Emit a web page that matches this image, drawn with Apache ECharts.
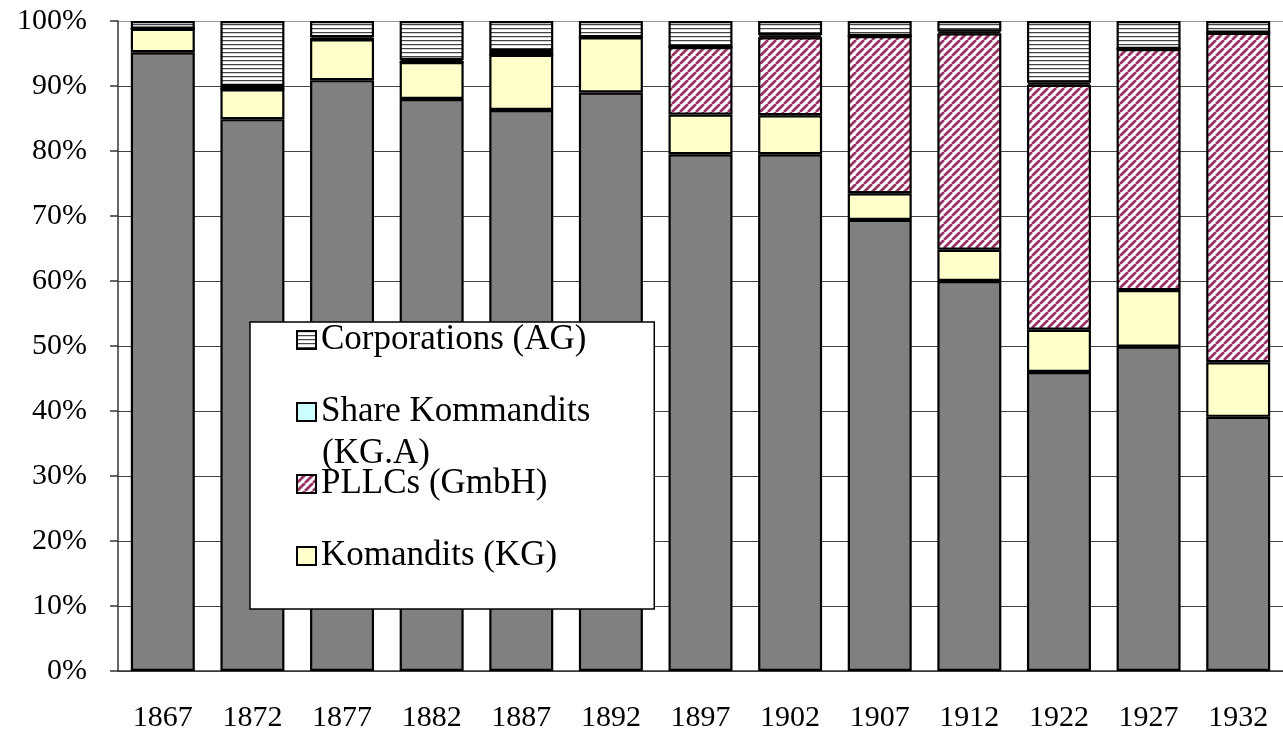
<!DOCTYPE html>
<html>
<head>
<meta charset="utf-8">
<script src="https://cdn.jsdelivr.net/npm/echarts@6/dist/echarts.min.js"></script>
<style>
  html, body { margin: 0; padding: 0; background: #fff; }
  #main { width: 1283px; height: 734px; }
</style>
</head>
<body>
<div id="main"></div>
<script>
// NOTE - 数据 (各年份企业形式占比, %)
const years = ['1867', '1872', '1877', '1882', '1887', '1892', '1897', '1902', '1907', '1912', '1922', '1927', '1932']
const ohg = [95.2, 84.9, 90.9, 88.0, 86.3, 89.0, 79.5, 79.5, 69.4, 60.0, 46.0, 49.9, 39.1]
const kg = [3.6, 4.6, 6.3, 5.7, 8.5, 8.5, 6.1, 6.0, 4.1, 4.8, 6.5, 8.7, 8.4]
const gmbh = [0, 0, 0, 0, 0, 0, 10.4, 12.0, 24.2, 33.3, 37.7, 37.1, 50.7]
const kga = [0, 0.5, 0.3, 0.3, 0.6, 0, 0, 0.3, 0, 0.3, 0.3, 0, 0]
const ag = [1.2, 10.0, 2.5, 6.0, 4.6, 2.5, 4.0, 2.2, 2.3, 1.6, 9.5, 4.3, 1.8]
const legendNames = ['Corporations (AG)', 'Share Kommandits (KG.A)', 'PLLCs (GmbH)', 'Komandits (KG)']

const FONT = 'Liberation Serif'

// NOTE - 斜线填充
const makeStripe = () => {
  const s = 8
  const c = document.createElement('canvas')
  c.width = s
  c.height = s
  const ctx = c.getContext('2d')
  ctx.fillStyle = '#fff'
  ctx.fillRect(0, 0, s, s)
  ctx.strokeStyle = '#993366'
  ctx.lineWidth = 2.8
  ctx.beginPath()
  for (let k = -1; k <= 1; k++) {
    ctx.moveTo(k * s, s)
    ctx.lineTo(k * s + s, 0)
  }
  ctx.stroke()
  return c
}

// NOTE - 横线填充
const makeLines = () => {
  const c = document.createElement('canvas')
  c.width = 4
  c.height = 4
  const ctx = c.getContext('2d')
  ctx.fillStyle = '#fff'
  ctx.fillRect(0, 0, 4, 4)
  ctx.fillStyle = '#444'
  ctx.fillRect(0, 0, 4, 1)
  ctx.fillStyle = '#d4d4d4'
  ctx.fillRect(0, 1, 4, 1)
  return c
}

const border = { borderColor: '#000', borderWidth: 2.2 }

const bar = (name, data, color) => ({
  name,
  type: 'bar',
  stack: 'total',
  barCategoryGap: '28.6%',
  data,
  itemStyle: { color, ...border },
  emphasis: { disabled: true }
})

const myChart = echarts.init(document.querySelector('#main'))
const gridColors = ['#444', '#444', '#444', '#444', '#444', '#444', '#444', '#444', '#444', '#444', '#999']

const option = {
  animation: false,
  textStyle: { fontFamily: FONT },
  grid: {
    left: 118,
    right: -18,
    top: 21,
    bottom: 63
  },
  xAxis: {
    type: 'category',
    data: years,
    axisLine: { lineStyle: { color: '#333', width: 1.5 } },
    axisTick: { length: 11, lineStyle: { color: '#333', width: 1.5 } },
    axisLabel: {
      margin: 32,
      color: '#000',
      fontSize: 30,
      fontFamily: FONT
    }
  },
  yAxis: {
    type: 'value',
    min: 0,
    max: 100,
    interval: 10,
    axisLine: { show: true, lineStyle: { color: '#333', width: 1.5 } },
    axisTick: { show: true, length: 8, lineStyle: { color: '#333', width: 1.5 } },
    axisLabel: {
      margin: 31,
      color: '#000',
      fontSize: 30,
      fontFamily: FONT,
      formatter: '{value}%'
    },
    splitLine: { lineStyle: { color: gridColors, width: 1.2 } }
  },
  legend: {
    orient: 'vertical',
    left: 250,
    top: 322,
    data: legendNames,
    selectedMode: false,
    icon: 'rect',
    backgroundColor: '#fff',
    borderColor: '#000',
    borderWidth: 1.5,
    padding: [0, 64, 35, 46],
    itemWidth: 19,
    itemHeight: 18,
    itemGap: 36,
    itemStyle: { borderColor: '#000', borderWidth: 2 },
    formatter: name => name === 'Share Kommandits (KG.A)' ? 'Share Kommandits' : name,
    textStyle: {
      color: '#000',
      fontSize: 35,
      lineHeight: 36,
      fontFamily: FONT
    }
  },
  graphic: [
    {
      type: 'text',
      left: 322,
      top: 436,
      z: 100,
      style: {
        text: '(KG.A)',
        fill: '#000',
        font: `35px "${FONT}"`
      }
    }
  ],
  series: [
    bar('Partnerships (OHG)', ohg, '#808080'),
    bar('Komandits (KG)', kg, '#ffffcc'),
    bar('PLLCs (GmbH)', gmbh, { image: makeStripe(), repeat: 'repeat' }),
    bar('Share Kommandits (KG.A)', kga, '#ccffff'),
    bar('Corporations (AG)', ag, { image: makeLines(), repeat: 'repeat' })
  ]
}

myChart.setOption(option)
</script>
</body>
</html>
